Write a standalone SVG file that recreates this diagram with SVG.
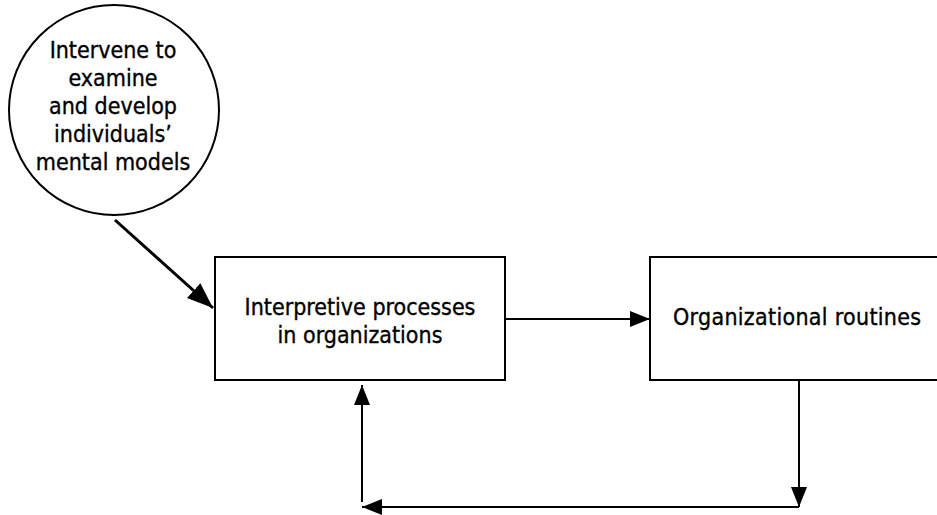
<svg xmlns="http://www.w3.org/2000/svg" width="937" height="515" viewBox="0 0 937 515">
<style>
.node{fill:#fff;stroke:#000;stroke-width:2}
.lbl{font-family:"DejaVu Sans Condensed","DejaVu Sans",sans-serif;font-stretch:condensed;font-size:23px;fill:#000;stroke:#000;stroke-width:0.35}
.c{text-anchor:middle}
.conn{fill:none;stroke:#000;stroke-width:2}
.thick{stroke-width:3}
</style>
<defs>
<marker id="ah" markerUnits="userSpaceOnUse" markerWidth="22" markerHeight="18" refX="20" refY="8" orient="auto">
<path d="M0,0 L20,8 L0,16 Z" fill="#000"/>
</marker>
<marker id="ahb" markerUnits="userSpaceOnUse" markerWidth="28" markerHeight="22" refX="26" refY="10" orient="auto">
<path d="M0,0 L26,10 L0,20 Z" fill="#000"/>
</marker>
</defs>
<rect width="937" height="515" fill="#fff"/>
<g id="n-intervene">
<circle class="node" cx="114" cy="110" r="105"/>
<text class="lbl c" x="113" y="58">Intervene to</text>
<text class="lbl c" x="113" y="86">examine</text>
<text class="lbl c" x="113" y="114">and develop</text>
<text class="lbl c" x="113" y="142">individuals’</text>
<text class="lbl c" x="113" y="170">mental models</text>
</g>
<g id="n-interpretive">
<rect class="node" x="215" y="257" width="290" height="123"/>
<text class="lbl c" x="360" y="315">Interpretive processes</text>
<text class="lbl c" x="360" y="343">in organizations</text>
</g>
<g id="n-routines">
<rect class="node" x="650" y="257" width="300" height="123"/>
<text class="lbl" x="673" y="325" font-size="24" letter-spacing="0.3">Organizational routines</text>
</g>
<g id="connectors">
<line class="conn thick" x1="115" y1="220" x2="213" y2="308" marker-end="url(#ahb)"/>
<line class="conn" x1="505" y1="319" x2="650" y2="319" marker-end="url(#ah)"/>
<line class="conn" x1="799" y1="380" x2="799" y2="507" marker-end="url(#ah)"/>
<line class="conn" x1="799" y1="507" x2="362" y2="507" marker-end="url(#ah)"/>
<line class="conn" x1="362" y1="502" x2="362" y2="385" marker-end="url(#ah)"/>
</g>
</svg>
